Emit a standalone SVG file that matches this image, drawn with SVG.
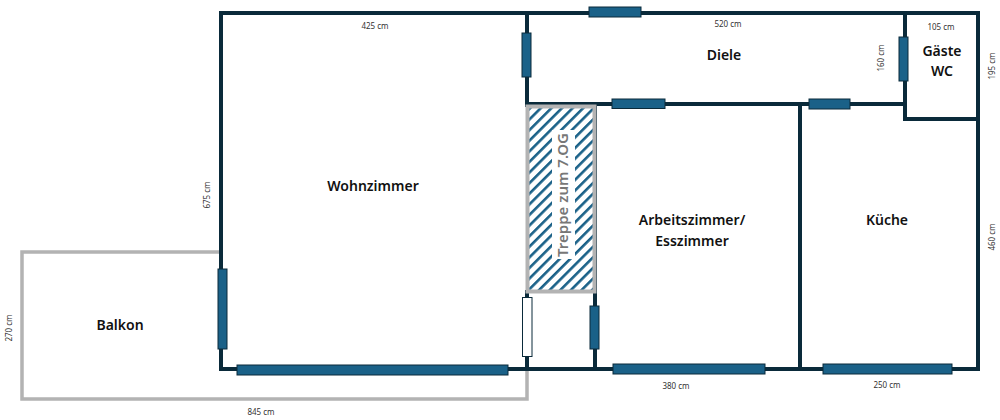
<svg xmlns="http://www.w3.org/2000/svg" width="1000" height="420" viewBox="0 0 1000 420">
<style>
.wall{fill:none;stroke:#0a2a3a;stroke-width:4;stroke-linecap:square}
.win{fill:#1a6188;stroke:#0a2a3a;stroke-width:1}
.door{fill:#fff;stroke:#0a2a3a;stroke-width:1}
.room{font-family:"Noto Sans",sans-serif;font-weight:600;font-size:14px;fill:#111;text-anchor:middle}
.dim{font-family:"Noto Sans",sans-serif;font-size:8px;fill:#333;text-anchor:middle}
</style>
<defs>
<pattern id="hatch" width="7.5" height="7.5" patternUnits="userSpaceOnUse" patternTransform="rotate(45)">
<rect width="7.5" height="7.5" fill="#fff"/>
<rect width="2.6" height="7.5" fill="#1a6188"/>
</pattern>
</defs>
<rect width="1000" height="420" fill="#fff"/>
<g id="balkon">
<path d="M221 252H22V399H527V369" fill="none" stroke="#b3b3b3" stroke-width="3.5"/>
<text class="room" x="120" y="330">Balkon</text>
</g>
<g id="connectors">
<path class="wall" d="M221 13H978V369H221V13M527 13V105M527 104H905M905 13V119H978M800 104V369M595 104V369M527 292V369"/>
</g>
<g id="treppe">
<rect x="527.5" y="106.5" width="67" height="185" fill="url(#hatch)" stroke="#b3b3b3" stroke-width="4"/>
<rect x="552" y="130" width="23" height="129" fill="#fff"/>
<text transform="translate(568,195) rotate(-90)" font-family="Noto Sans,sans-serif" font-weight="600" font-size="15" fill="#777" text-anchor="middle">Treppe zum 7.OG</text>
</g>
<g id="fenster">
<rect class="win" x="589" y="7" width="52" height="10"/>
<rect class="win" x="522" y="33" width="9" height="44"/>
<rect class="win" x="612" y="99" width="53" height="9.5"/>
<rect class="win" x="809" y="99" width="41" height="10"/>
<rect class="win" x="899" y="37" width="9" height="44"/>
<rect class="win" x="218" y="269" width="9" height="80"/>
<rect class="win" x="237" y="365" width="271" height="10"/>
<rect class="win" x="590" y="306" width="9" height="43"/>
<rect class="win" x="613" y="364" width="152" height="10"/>
<rect class="win" x="823" y="364" width="129" height="10"/>
<rect class="door" x="522.5" y="297.5" width="9.5" height="59"/>
</g>
<g id="wohnzimmer"><text class="room" x="373" y="191">Wohnzimmer</text></g>
<g id="diele"><text class="room" x="724" y="60">Diele</text></g>
<g id="gaeste-wc"><text class="room" x="942" y="56">Gäste</text><text class="room" x="942" y="76">WC</text></g>
<g id="arbeitszimmer"><text class="room" x="692" y="225">Arbeitszimmer/</text><text class="room" x="692" y="246">Esszimmer</text></g>
<g id="kueche"><text class="room" x="887" y="225">Küche</text></g>
<g id="masse">
<text class="dim" x="375" y="29">425 cm</text>
<text class="dim" x="728" y="27">520 cm</text>
<text class="dim" x="941" y="30">105 cm</text>
<text class="dim" x="676" y="389">380 cm</text>
<text class="dim" x="887" y="388">250 cm</text>
<text class="dim" x="261" y="415">845 cm</text>
<text class="dim" transform="translate(210,195) rotate(-90)">675 cm</text>
<text class="dim" transform="translate(884,58) rotate(-90)">160 cm</text>
<text class="dim" transform="translate(995,66) rotate(-90)">195 cm</text>
<text class="dim" transform="translate(995,237) rotate(-90)">460 cm</text>
<text class="dim" transform="translate(12,328) rotate(-90)">270 cm</text>
</g>
</svg>
